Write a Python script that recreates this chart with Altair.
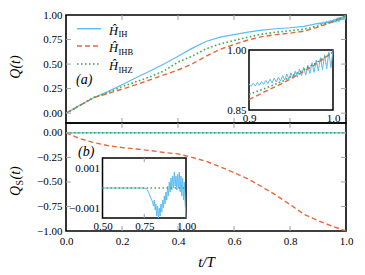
import altair as alt
import pandas as pd

# ---------------- data ----------------
T_COARSE = [0.0, 0.05, 0.10, 0.15, 0.20, 0.25, 0.30, 0.35, 0.40, 0.45, 0.50,
            0.55, 0.60, 0.65, 0.70, 0.75, 0.80, 0.85]
Q_IH = [0.0, 0.08, 0.16, 0.22, 0.29, 0.36, 0.43, 0.50, 0.58, 0.66, 0.73,
        0.775, 0.80, 0.825, 0.845, 0.86, 0.87, 0.885]
Q_IHB = [0.0, 0.08, 0.16, 0.20, 0.245, 0.29, 0.34, 0.39, 0.44, 0.50, 0.58,
         0.65, 0.70, 0.745, 0.78, 0.80, 0.815, 0.835]
Q_IHZ = [0.0, 0.08, 0.16, 0.21, 0.27, 0.32, 0.37, 0.43, 0.52, 0.58, 0.655,
         0.705, 0.74, 0.775, 0.805, 0.825, 0.84, 0.855]

# fine data near the end (inset a)
T_FINE = [0.9, 0.9025, 0.905, 0.9075, 0.91, 0.9125, 0.915, 0.9175, 0.92, 0.9225,
          0.925, 0.9275, 0.93, 0.9325, 0.935, 0.9375, 0.94, 0.9425, 0.945, 0.9475,
          0.95, 0.9525, 0.955, 0.9575, 0.96, 0.9625, 0.965, 0.9675, 0.97, 0.9725,
          0.975, 0.9775, 0.98, 0.9825, 0.985, 0.9875, 0.99, 0.9925, 0.995, 0.9975, 1.0]
Q_IH_FINE = [0.915, 0.909, 0.917, 0.910, 0.919, 0.912, 0.921, 0.914, 0.924, 0.916,
             0.927, 0.918, 0.930, 0.920, 0.932, 0.922, 0.936, 0.925, 0.940, 0.927,
             0.943, 0.929, 0.947, 0.932, 0.952, 0.935, 0.957, 0.937, 0.962, 0.941,
             0.968, 0.944, 0.975, 0.948, 0.981, 0.951, 0.988, 0.953, 0.995, 0.956, 1.0]
T_IN = [0.90, 0.92, 0.94, 0.96, 0.98, 1.00]
Q_IHB_IN = [0.876, 0.897, 0.917, 0.940, 0.965, 0.995]
Q_IHZ_IN = [0.889, 0.905, 0.922, 0.945, 0.968, 0.995]

# lower panel
T_S = [0.0, 0.05, 0.10, 0.15, 0.20, 0.25, 0.30, 0.35, 0.40, 0.45, 0.50,
       0.55, 0.60, 0.65, 0.70, 0.75, 0.80, 0.85, 0.90, 0.95, 1.00]
QS_IHB = [0.0, -0.06, -0.10, -0.13, -0.15, -0.165, -0.18, -0.20, -0.215, -0.25, -0.29,
          -0.345, -0.405, -0.47, -0.55, -0.635, -0.73, -0.83, -0.895, -0.95, -1.0]
T_FLAT = [0.0, 1.0]
QS_FLAT = [0.0, 0.0]

# inset b
TB = [0.50, 0.60, 0.70, 0.74, 0.76, 0.77, 0.78, 0.79, 0.80,
      0.805, 0.81, 0.815, 0.82, 0.825, 0.83, 0.835, 0.84, 0.845, 0.85,
      0.855, 0.86, 0.865, 0.87, 0.875, 0.88, 0.885, 0.89, 0.895, 0.90,
      0.905, 0.91, 0.915, 0.92, 0.925, 0.93, 0.935, 0.94, 0.945, 0.95,
      0.955, 0.96, 0.965, 0.97, 0.975, 0.98, 0.985, 0.99, 0.995, 1.0]
QSB_IH = [0, 0, 0, 0, -0.00002, -0.0001, -0.0003, -0.0005, -0.0007,
          -0.0009, -0.0006, -0.0011, -0.0008, -0.0014, -0.0009, -0.0015, -0.0010, -0.0014, -0.0008,
          -0.0012, -0.0006, -0.0010, -0.0004, -0.0008, -0.0002, -0.0006, 0.0001, -0.0004, 0.0003,
          -0.0002, 0.0005, -0.0001, 0.0006, 0.0000, 0.0008, 0.0001, 0.0006, -0.0001, 0.0007,
          0.0000, 0.0008, -0.0002, 0.0006, -0.0004, 0.0005, -0.0006, 0.0003, -0.0008, -0.0015]
TB_FLAT = [0.5, 1.0]
QSB_FLAT = [0.0, 0.0]

X_TICKS = [0.0, 0.2, 0.4, 0.6, 0.8, 1.0]
YA_TICKS = [0.0, 0.25, 0.5, 0.75, 1.0]
YB_TICKS = [0.0, -0.25, -0.5, -0.75, -1.0]
LEG_SUB = ["IH", "IHB", "IHZ"]

# ---------------- style ----------------
FONT = "Liberation Serif"
BLUE = "#5cbcf5"
RED = "#e9663c"
GREEN = "#45a94b"
TICK = "#a0a0a0"
W, H = 280, 108
DASH = [5, 3]
DOT = [1.6, 2.4]
ONE = pd.DataFrame({"a": [0]})


def lmark(df, color, dash, xf, yf, sw=1.2):
    kw = dict(color=color, strokeWidth=sw, clip=True)
    if dash:
        kw["strokeDash"] = dash
    return alt.Chart(df).mark_line(**kw).encode(x=xf, y=yf)


def df(t, q):
    return pd.DataFrame({"t": t, "q": q})


def ax(**kw):
    base = dict(ticks=False, tickSize=0, domain=False, grid=False, title=None,
                labelFlush=False, labelOverlap=False, labelFont=FONT)
    base.update(kw)
    return alt.Axis(**base)


def ticks(xf, yf, yvals):
    xt = pd.DataFrame({"t": X_TICKS[1:-1]})
    yt = pd.DataFrame({"q": yvals})
    r = dict(color=TICK, strokeWidth=1)
    return [
        alt.Chart(xt).mark_rule(**r).encode(x=xf, y=alt.value(0), y2=alt.value(5)),
        alt.Chart(xt).mark_rule(**r).encode(x=xf, y=alt.value(H - 5), y2=alt.value(H)),
        alt.Chart(yt).mark_rule(**r).encode(y=yf, x=alt.value(0), x2=alt.value(5)),
        alt.Chart(yt).mark_rule(**r).encode(y=yf, x=alt.value(W - 5), x2=alt.value(W)),
    ]


def txt(s, x, y, size=14, style="normal", align="left", baseline="alphabetic", angle=0):
    kw = dict(text=s, font=FONT, fontSize=size, fontStyle=style, align=align,
              baseline=baseline, color="black")
    if angle:
        kw["angle"] = angle
    return alt.Chart(ONE).mark_text(**kw).encode(x=alt.value(x), y=alt.value(y))


def frame(x0, x1, y0, y1):
    return alt.Chart(ONE).mark_rect(fill="white", stroke="black", strokeWidth=1.5).encode(
        x=alt.value(x0), x2=alt.value(x1), y=alt.value(y0), y2=alt.value(y1))


xscale = alt.Scale(domain=[0, 1], nice=False, zero=False)

# ---------------- top panel ----------------
xa = alt.X("t:Q", scale=xscale, axis=ax(values=X_TICKS, labels=False))
ya = alt.Y("q:Q", scale=alt.Scale(domain=[-0.1, 1.0], nice=False, zero=False),
           axis=ax(values=YA_TICKS, format=".2f", labelPadding=4))

top_main = [
    lmark(df(T_COARSE + T_FINE, Q_IH + Q_IH_FINE), BLUE, None, xa, ya),
    lmark(df(T_COARSE + T_IN, Q_IHB + Q_IHB_IN), RED, DASH, xa, ya, 1.4),
    lmark(df(T_COARSE + T_IN, Q_IHZ + Q_IHZ_IN), GREEN, DOT, xa, ya, 1.6),
] + ticks(xa, ya, [0.0, 0.25, 0.5, 0.75])

# legend
leg_y = [13.7, 31.0, 49.0]
for yy, col, dash, sub in zip(leg_y, [BLUE, RED, GREEN], [None, DASH, DOT], LEG_SUB):
    kw = dict(color=col, strokeWidth=1.4)
    if dash:
        kw["strokeDash"] = dash
    top_main.append(alt.Chart(ONE).mark_rule(**kw).encode(
        x=alt.value(11), x2=alt.value(35), y=alt.value(yy)))
    top_main.append(txt("Ĥ", 43, yy + 6, size=12.5, style="italic"))
    top_main.append(txt(sub, 52.5, yy + 8.5, size=8.5))
top_main.append(txt("(a)", 10, 69, size=14, style="italic"))
top_main.append(txt("Q(t)", -46, 52, size=14, style="italic", align="center", angle=270))

xia = alt.X("t:Q", scale=alt.Scale(domain=[0.9, 1.0], range=[183, 267], nice=False, zero=False),
            axis=ax(values=[0.9, 1.0], format=".1f", orient="bottom", offset=-13, labelPadding=2))
yia = alt.Y("q:Q", scale=alt.Scale(domain=[0.85, 1.0], range=[95, 35], nice=False, zero=False),
            axis=ax(values=[0.85, 1.0], format=".2f", orient="left", offset=-183, labelPadding=3))
top_inset = [
    frame(183, 267, 35, 95),
    lmark(df(T_FINE, Q_IH_FINE), BLUE, None, xia, yia, 1.0),
    lmark(df(T_IN, Q_IHB_IN), RED, DASH, xia, yia, 1.4),
    lmark(df(T_IN, Q_IHZ_IN), GREEN, DOT, xia, yia, 1.6),
]

top = alt.layer(alt.layer(*top_main), alt.layer(*top_inset)).resolve_scale(
    x="independent", y="independent").properties(width=W, height=H)

# ---------------- bottom panel ----------------
xb = alt.X("t:Q", scale=xscale,
           axis=ax(values=X_TICKS, format=".1f", labelPadding=4, title="t/T",
                   titleFont=FONT, titleFontStyle="italic", titleFontSize=15,
                   titleFontWeight="normal", titlePadding=8))
yb = alt.Y("q:Q", scale=alt.Scale(domain=[-1.0, 0.1], nice=False, zero=False),
           axis=ax(values=YB_TICKS, format=".2f", labelPadding=4))

bot_main = [
    lmark(df(T_FLAT, QS_FLAT), BLUE, None, xb, yb),
    lmark(df(T_S, QS_IHB), RED, DASH, xb, yb, 1.4),
    lmark(df(T_FLAT, QS_FLAT), GREEN, DOT, xb, yb, 1.6),
] + ticks(xb, yb, [0.0, -0.25, -0.5, -0.75])
bot_main.append(txt("(b)", 12, 33, size=14, style="italic"))
bot_main.append(txt("Q", -46, 73, size=14, style="italic", angle=270))
bot_main.append(txt("S", -43, 62.5, size=10, angle=270))
bot_main.append(txt("(t)", -46, 56.5, size=14, style="italic", angle=270))

xib = alt.X("t:Q", scale=alt.Scale(domain=[0.5, 1.0], range=[36.5, 120], nice=False, zero=False),
            axis=ax(values=[0.5, 0.75, 1.0], format=".2f", orient="bottom", offset=-13,
                    labelPadding=2))
yib = alt.Y("q:Q", scale=alt.Scale(domain=[-0.0015, 0.0015], range=[95, 35], nice=False, zero=False),
            axis=ax(values=[-0.001, 0.001], format=".3f", orient="left", offset=-36.5,
                    labelPadding=3))
ibt = pd.DataFrame({"t": [0.75]})
bot_inset = [
    frame(36.5, 120, 35, 95),
    alt.Chart(ibt).mark_rule(color=TICK).encode(x=xib, y=alt.value(35), y2=alt.value(39)),
    alt.Chart(ibt).mark_rule(color=TICK).encode(x=xib, y=alt.value(91), y2=alt.value(95)),
    lmark(df(TB, QSB_IH), BLUE, None, xib, yib, 1.0),
    lmark(df(TB_FLAT, QSB_FLAT), GREEN, DOT, xib, yib, 1.6),
]

bottom = alt.layer(alt.layer(*bot_main), alt.layer(*bot_inset)).resolve_scale(
    x="independent", y="independent").properties(width=W, height=H)

chart = alt.vconcat(top, bottom, spacing=0, bounds="flush",
                    padding={"left": 0, "top": 0, "right": 0, "bottom": 0}).configure_view(
    stroke="black", strokeWidth=1.6).configure_axis(
    labelFont=FONT, labelFontSize=11, labelColor="black", titleFont=FONT, titleColor="black"
).configure_text(font=FONT)

chart.save("out.html", embed_options={"renderer": "svg", "actions": False})
